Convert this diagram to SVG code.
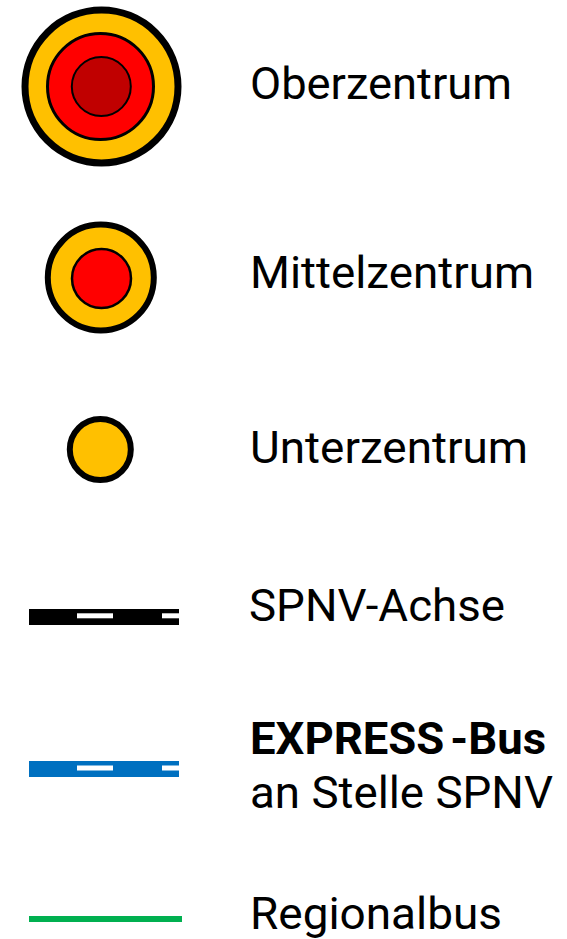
<svg xmlns="http://www.w3.org/2000/svg" width="567" height="939" viewBox="0 0 567 939">
<style>
.lbl{font-family:Roboto,"Liberation Sans",sans-serif;font-size:45px;fill:#000;}
.dash{fill:#fff;}
</style>
<rect width="567" height="939" fill="#fff"/>
<g id="oberzentrum">
<circle cx="101.5" cy="86.5" r="76.5" fill="#FFC000" stroke="#000" stroke-width="7"/>
<circle cx="100.5" cy="86.5" r="53" fill="#FF0000" stroke="#000" stroke-width="3"/>
<circle cx="101.3" cy="86.5" r="29.5" fill="#C00000" stroke="#000" stroke-width="2"/>
<text class="lbl" x="250" y="99" textLength="262" lengthAdjust="spacingAndGlyphs">Oberzentrum</text>
</g>
<g id="mittelzentrum">
<circle cx="100.8" cy="277.5" r="53" fill="#FFC000" stroke="#000" stroke-width="6"/>
<circle cx="101.5" cy="278.5" r="29.5" fill="#FF0000" stroke="#000" stroke-width="2.5"/>
<text class="lbl" x="250" y="288" textLength="284" lengthAdjust="spacingAndGlyphs">Mittelzentrum</text>
</g>
<g id="unterzentrum">
<circle cx="100.3" cy="449.5" r="30.5" fill="#FFC000" stroke="#000" stroke-width="6"/>
<text class="lbl" x="250" y="463" textLength="278" lengthAdjust="spacingAndGlyphs">Unterzentrum</text>
</g>
<g id="spnv">
<rect x="29" y="609" width="150" height="16" fill="#000"/>
<rect class="dash" x="77" y="613.3" width="36" height="5"/>
<rect class="dash" x="162" y="613.3" width="17" height="5"/>
<text class="lbl" x="249" y="621" textLength="256" lengthAdjust="spacingAndGlyphs">SPNV-Achse</text>
</g>
<g id="expressbus">
<rect x="29" y="761" width="150" height="16" fill="#0070C0"/>
<rect class="dash" x="77" y="765.5" width="36" height="5"/>
<rect class="dash" x="162" y="765.5" width="17" height="5"/>
<text class="lbl" x="250" y="754" font-weight="bold" textLength="296" lengthAdjust="spacingAndGlyphs">EXPRESS<tspan dx="6">-Bus</tspan></text>
<text class="lbl" x="250" y="808" textLength="303" lengthAdjust="spacingAndGlyphs">an Stelle SPNV</text>
</g>
<g id="regionalbus">
<rect x="29" y="916" width="153" height="6" fill="#00B050"/>
<text class="lbl" x="250" y="929" textLength="252" lengthAdjust="spacingAndGlyphs">Regionalbus</text>
</g>
<g id="connectors"></g>
</svg>
